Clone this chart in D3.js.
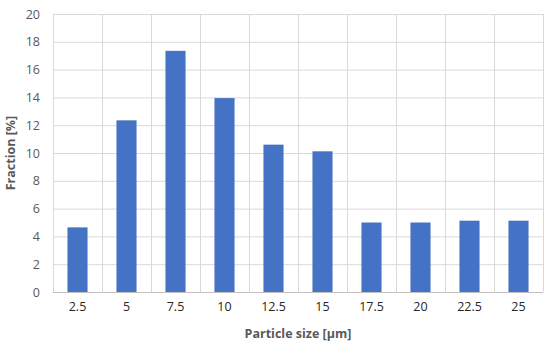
<!DOCTYPE html>
<html><head><meta charset="utf-8">
<script src="https://cdn.jsdelivr.net/npm/d3@7"></script>
<style>body{margin:0;background:#fff;} text{font-family:"Open Sans","Noto Sans",sans-serif;}</style>
</head><body><svg id="c" width="550" height="348"></svg>
<script>
const categories = ["2.5","5","7.5","10","12.5","15","17.5","20","22.5","25"];
const fractionValues = [4.65, 12.35, 17.35, 13.95, 10.6, 10.12, 5.0, 5.0, 5.13, 5.13];
const yTicks = [0,2,4,6,8,10,12,14,16,18,20];
const xTitle = "Particle size [μm]";
const yTitle = "Fraction [%]";

const svg = d3.select("#c");
const L = 53, R = 543, T = 14, B = 292;
const x = d3.scaleBand().domain(categories).range([L, R]).paddingInner(0.59).paddingOuter(0.295);
const xb = d3.scaleBand().domain(categories).range([L, R]);
const y = d3.scaleLinear().domain([0, 20]).range([B, T]);

svg.append("g").selectAll("line").data(yTicks.filter(d => d > 0)).join("line")
  .attr("x1", L).attr("x2", R).attr("y1", d => y(d) + 0.5).attr("y2", d => y(d) + 0.5)
  .attr("stroke", "#d9d9d9").attr("stroke-width", 1);
const bounds = categories.map(c => xb(c)).concat([R]);
svg.append("g").selectAll("line").data(bounds).join("line")
  .attr("x1", d => Math.round(d) + 0.5).attr("x2", d => Math.round(d) + 0.5).attr("y1", T).attr("y2", B)
  .attr("stroke", "#d9d9d9").attr("stroke-width", 1);

svg.append("g").selectAll("rect").data(fractionValues).join("rect")
  .attr("x", (d, i) => x(categories[i])).attr("width", x.bandwidth())
  .attr("y", d => y(d)).attr("height", d => B - y(d))
  .attr("fill", "#4472c4");

svg.append("line").attr("x1", L).attr("x2", R).attr("y1", B + 0.5).attr("y2", B + 0.5)
  .attr("stroke", "#bfbfbf").attr("stroke-width", 1);

const yAxis = d3.axisLeft(y).tickValues(yTicks).tickSize(0).tickPadding(13);
const gy = svg.append("g").attr("transform", `translate(${L},0)`).call(yAxis);
gy.select(".domain").remove();
gy.selectAll("text").attr("fill", "#595959").style("font-size", "12.5px").attr("font-family", "Open Sans");

const xAxis = d3.axisBottom(xb).tickSize(0).tickPadding(10);
const gx = svg.append("g").attr("transform", `translate(0,${B})`).call(xAxis);
gx.select(".domain").remove();
gx.selectAll("text").attr("fill", "#262626").style("font-size", "12.5px").attr("font-family", "Open Sans");

svg.append("text").attr("x", (L + R) / 2).attr("y", 338).attr("text-anchor", "middle")
  .attr("fill", "#595959").style("font-size", "12.5px").style("font-weight", "bold").text(xTitle);
svg.append("text").attr("transform", `translate(15,${(T + B) / 2}) rotate(-90)`).attr("text-anchor", "middle")
  .attr("fill", "#595959").style("font-size", "12.5px").style("font-weight", "bold").text(yTitle);
</script></body></html>
